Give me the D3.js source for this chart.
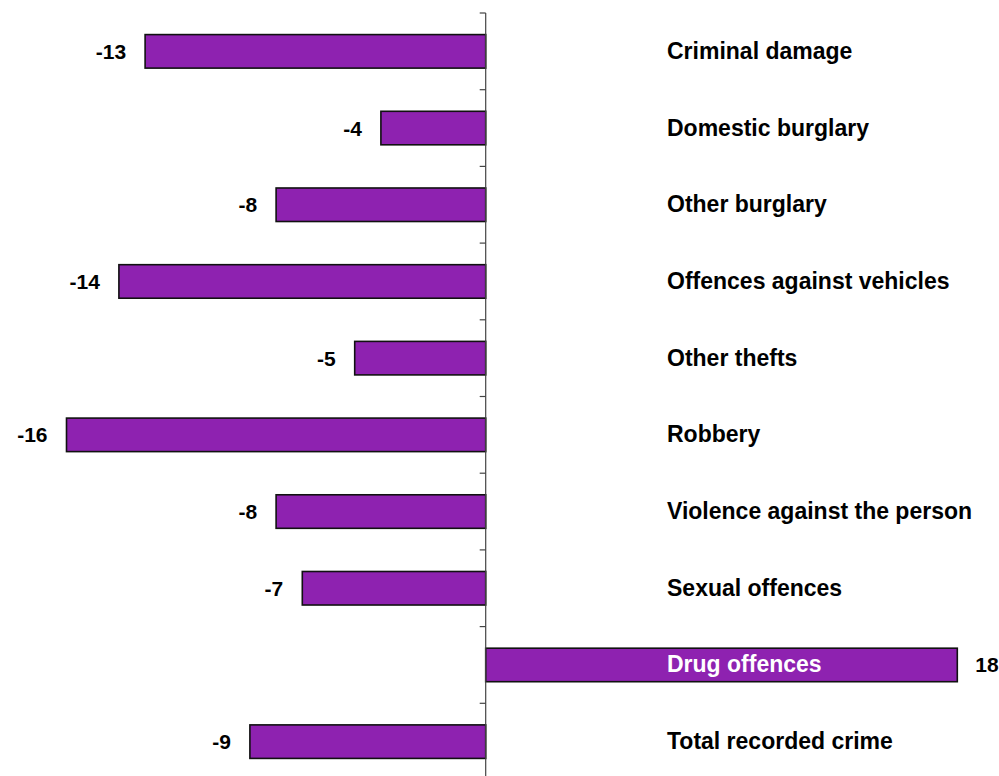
<!DOCTYPE html>
<html>
<head>
<meta charset="utf-8">
<script src="https://cdn.jsdelivr.net/npm/d3@7"></script>
<style>
  html, body { margin: 0; padding: 0; background: #fff; }
  svg { display: block; }
  text { font-family: "Liberation Sans", Arial, sans-serif; font-weight: bold; }
</style>
</head>
<body>
<svg id="chart" width="999" height="776"></svg>
<script>
// Percentage change in recorded crime by offence group
const categories = [
  "Criminal damage",
  "Domestic burglary",
  "Other burglary",
  "Offences against vehicles",
  "Other thefts",
  "Robbery",
  "Violence against the person",
  "Sexual offences",
  "Drug offences",
  "Total recorded crime"
];
const changes = [-13, -4, -8, -14, -5, -16, -8, -7, 18, -9];

const svg = d3.select("#chart");
const W = 999, H = 776;

// value axis: zero line sits at x = 485.7, 26.2 px per percentage point
const x0 = 485.7, perUnit = 26.2;
const xDomain = [-18, 20];
const x = d3.scaleLinear()
  .domain(xDomain)
  .range([x0 + xDomain[0] * perUnit, x0 + xDomain[1] * perUnit]);

// category bands running down the chart
const y = d3.scaleBand()
  .domain(categories)
  .range([13, 780])
  .padding(0);
const bw = y.bandwidth();
const barH = bw * 0.437;

const rows = categories.map((c, i) => ({ cat: c, v: changes[i] }));

// bars
svg.append("g")
  .selectAll("rect")
  .data(rows)
  .join("rect")
  .attr("x", d => x(Math.min(0, d.v)))
  .attr("y", d => y(d.cat) + (bw - barH) / 2)
  .attr("width", d => Math.abs(x(d.v) - x(0)))
  .attr("height", barH)
  .attr("fill", "#8e22b0")
  .attr("stroke", "#111")
  .attr("stroke-width", 1.6);

// zero axis with ticks at band boundaries
const axis = svg.append("g");
axis.append("line")
  .attr("x1", x(0)).attr("x2", x(0))
  .attr("y1", y.range()[0]).attr("y2", H)
  .attr("stroke", "#444").attr("stroke-width", 1.2);
const tickYs = categories.map(c => y(c)).concat([y.range()[1]]);
axis.selectAll("line.tick")
  .data(tickYs)
  .join("line")
  .attr("class", "tick")
  .attr("x1", x(0) - 6).attr("x2", x(0))
  .attr("y1", d => d).attr("y2", d => d)
  .attr("stroke", "#444").attr("stroke-width", 1.2);

// value labels beside bar ends
svg.append("g")
  .selectAll("text")
  .data(rows)
  .join("text")
  .attr("x", d => d.v < 0 ? x(d.v) - 19 : x(d.v) + 18)
  .attr("y", d => y(d.cat) + bw / 2 + 7.5)
  .attr("text-anchor", d => d.v < 0 ? "end" : "start")
  .attr("font-size", 21)
  .attr("fill", "#000")
  .text(d => d.v);

// offence group names on the right
svg.append("g")
  .selectAll("text")
  .data(rows)
  .join("text")
  .attr("x", 667)
  .attr("y", d => y(d.cat) + bw / 2 + 7.5)
  .attr("font-size", 23)
  .attr("fill", d => x(d.v) > 667 ? "#fff" : "#000")
  .text(d => d.cat);
</script>
</body>
</html>
